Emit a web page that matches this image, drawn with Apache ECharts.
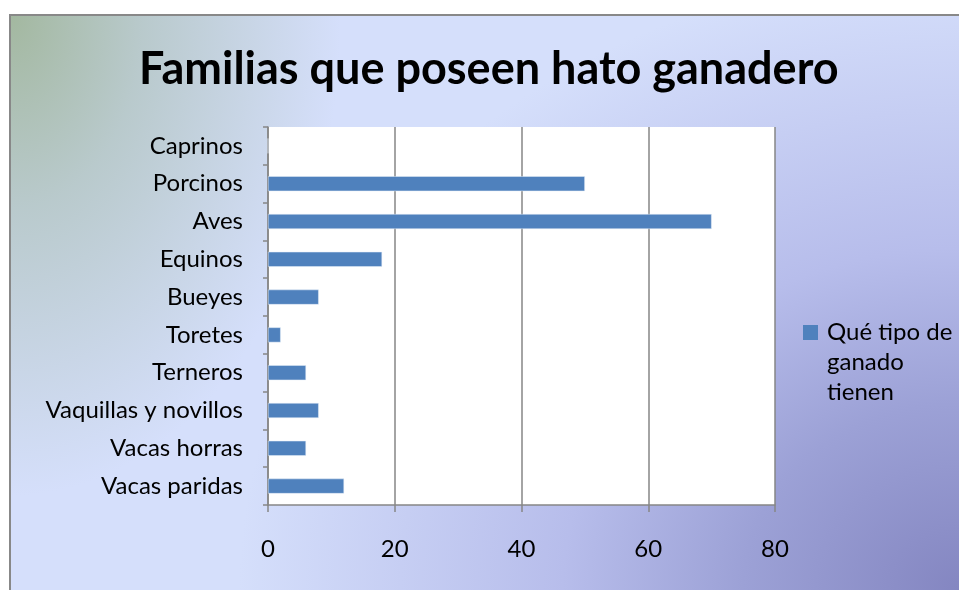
<!DOCTYPE html>
<html>
<head>
<meta charset="utf-8">
<script src="https://cdn.jsdelivr.net/npm/echarts@6/dist/echarts.min.js"></script>
<style>
    html, body {
        margin: 0;
        padding: 0;
        background: #fff;
    }
    #bg {
        position: absolute;
        left: 9px;
        top: 14px;
        width: 950px;
        height: 576px;
        border-left: 2px solid #888;
        border-top: 2px solid #888;
        box-sizing: border-box;
        background:
            radial-gradient(ellipse 330px 480px at 0 0, rgba(163, 184, 160, 1) 0%, rgba(180, 198, 196, 0.85) 40%, rgba(213, 223, 251, 0) 100%),
            radial-gradient(ellipse 720px 620px at 100% 100%, #8486c1 0%, #9ca1d6 30%, #b7bdeb 55%, rgba(213, 223, 251, 0) 100%),
            #d5dffb;
    }
    #chart {
        position: absolute;
        left: 0;
        top: 0;
        width: 959px;
        height: 590px;
    }
</style>
</head>
<body>
<div id="bg"></div>
<div id="chart"></div>
<script>
    // bottom to top, as the axis draws them
    const categories = ["Vacas paridas", "Vacas horras", "Vaquillas y novillos", "Terneros", "Toretes",
        "Bueyes", "Equinos", "Aves", "Porcinos", "Caprinos"];
    const values = [12, 6, 8, 6, 2, 8, 18, 70, 50, 0];
    const seriesName = "Qué tipo de ganado tienen";
    const xTicks = [0, 20, 40, 60, 80];

    const font = "Lato, 'Open Sans', sans-serif";
    const chartInstance = echarts.init(document.getElementById("chart"));

    const option = {
        backgroundColor: "transparent",
        textStyle: {fontFamily: font},
        title: {
            text: "Familias que poseen hato ganadero",
            left: 139,
            top: 47,
            textStyle: {
                fontFamily: font,
                fontSize: 45,
                fontWeight: "bold",
                color: "#000"
            },
            padding: 0
        },
        legend: {
            orient: "vertical",
            left: 803,
            top: 317,
            padding: 0,
            itemWidth: 15,
            itemHeight: 74,
            itemGap: 8,
            // square sits beside the first line of the three-line label
            icon: "path://M0,0h15v15h-15z M0,74h0.01v0.01h-0.01z",
            itemStyle: {borderWidth: 0},
            formatter: () => "Qué tipo de\nganado\ntienen",
            textStyle: {
                fontFamily: font,
                fontSize: 24,
                color: "#000",
                lineHeight: 30,
                padding: [0, 0, 0, 4]
            },
            data: [seriesName]
        },
        grid: {
            left: 268,
            top: 127,
            width: 507,
            height: 378,
            show: true,
            backgroundColor: "#fff",
            borderWidth: 0
        },
        xAxis: {
            type: "value",
            min: xTicks[0],
            max: xTicks[xTicks.length - 1],
            interval: 20,
            axisLine: {show: true, lineStyle: {color: "#868686", width: 1.5}},
            axisTick: {show: true, length: 7, lineStyle: {color: "#868686", width: 1.5}},
            axisLabel: {
                margin: 32,
                fontSize: 24,
                color: "#000",
                fontFamily: font
            },
            splitLine: {show: true, lineStyle: {color: "#868686", width: 1.5}}
        },
        yAxis: {
            type: "category",
            data: categories,
            axisLine: {show: true, lineStyle: {color: "#868686", width: 1.5}},
            axisTick: {show: true, length: 5, lineStyle: {color: "#868686", width: 1.5}},
            axisLabel: {
                margin: 25,
                fontSize: 24,
                color: "#000",
                fontFamily: font
            }
        },
        series: [{
            name: seriesName,
            type: "bar",
            data: values,
            barWidth: 15,
            itemStyle: {
                color: "#4f81bd",
                borderColor: "#e6eef8",
                borderWidth: 0.5
            }
        }]
    };

    chartInstance.setOption(option);
</script>
</body>
</html>
